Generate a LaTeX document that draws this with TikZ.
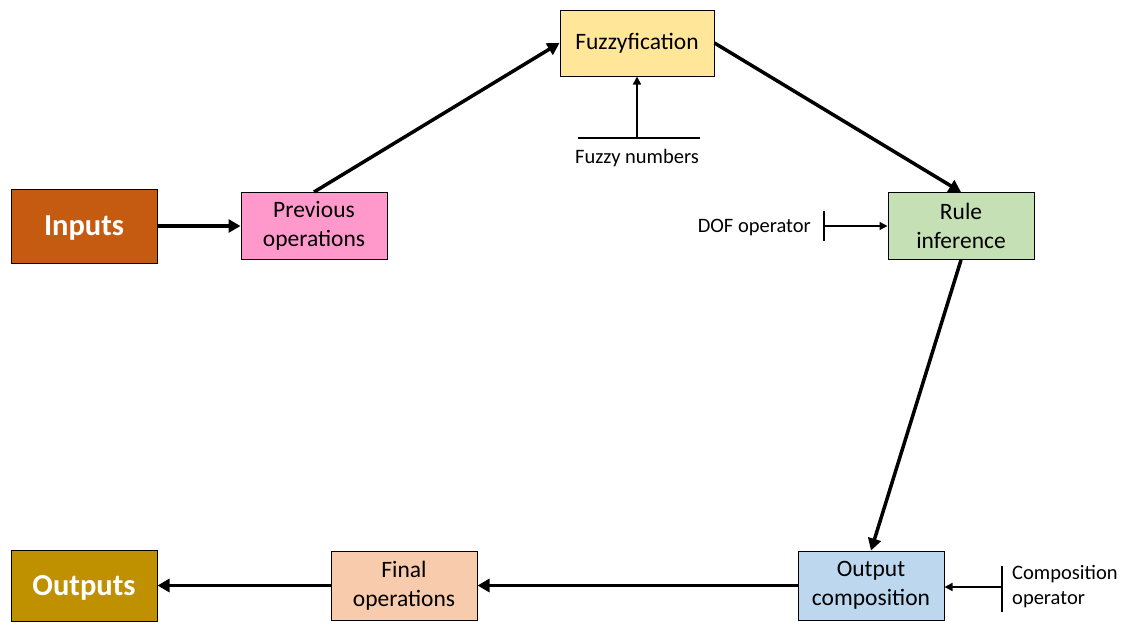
\documentclass[tikz,border=0pt]{standalone}
\usepackage{fontspec}
\setmainfont{Carlito}
\usetikzlibrary{arrows.meta}
\definecolor{inputs}{HTML}{C55A11}
\definecolor{outs}{HTML}{BF9000}
\definecolor{prev}{HTML}{FF99CC}
\definecolor{fuzz}{HTML}{FFE699}
\definecolor{rule}{HTML}{C5E0B4}
\definecolor{outc}{HTML}{BDD7EE}
\definecolor{final}{HTML}{F8CBAD}
\begin{document}
\begin{tikzpicture}[x=1pt,y=-1pt,font=\fontsize{23.5}{29}\selectfont,
 box/.style={draw,line width=1pt,minimum width=146pt,minimum height=67pt,align=center,inner sep=2pt},
 big/.style={box,text=white,font=\fontsize{30.5}{36}\selectfont\bfseries,minimum height=74pt,text depth=0pt},
 small/.style={font=\fontsize{20.5}{25}\selectfont,inner sep=0pt},
 flow/.style={-{Triangle[length=12pt,width=13pt]},line width=3.5pt},
 feed/.style={-{Triangle[length=8pt,width=8pt]},line width=1.5pt}]
\useasboundingbox (0,0) rectangle (1123,621);

\node[big,fill=inputs] (in) at (84,226) {Inputs};
\node[box,fill=prev] (prev) at (314,226) {Previous\\operations};
\node[box,fill=fuzz,minimum width=154pt,minimum height=66pt] (fuzz) at (637,43) {Fuzzyfication};
\node[box,fill=rule] (rule) at (961,226) {Rule\\inference};
\node[box,fill=outc,minimum height=69pt] (outc) at (871,585.5) {Output\\composition};
\node[box,fill=final,minimum height=69pt] (final) at (404,585.5) {Final\\operations};
\node[big,fill=outs,minimum height=71pt] (outs) at (84,585.5) {Outputs};

% main flow
\draw[flow] (in) -- (prev);
\draw[flow] (prev.north) -- (fuzz.west);
\draw[flow] (fuzz.east) -- (rule.north);
\draw[flow] (rule.south) -- (outc.north);
\draw[flow] (outc) -- (final);
\draw[flow] (final) -- (outs);

% side inputs
\coordinate (fnL) at (578,138);
\coordinate (fnR) at (700,138);
\coordinate (fn) at (637,138);
\draw[line width=1.5pt] (fnL) -- (fnR);
\draw[feed] (fn) -- (fuzz.south);
\node[small] (fnlab) at (637,158) {Fuzzy numbers};

\coordinate (dofT) at (824,211);
\coordinate (dofB) at (824,241);
\coordinate (dof) at (824,226);
\draw[line width=1.5pt] (dofT) -- (dofB);
\draw[feed] (dof) -- (rule.west);
\node[small,anchor=east] (doflab) at (811,227) {DOF operator};

\coordinate (cmpT) at (1002,566);
\coordinate (cmpB) at (1002,612);
\coordinate (cmp) at (1002,587);
\draw[line width=1.5pt] (cmpT) -- (cmpB);
\draw[feed] (cmp) -- (outc.east |- cmp);
\node[small,anchor=west,align=left] (cmplab) at (1012,587) {Composition\\operator};
\end{tikzpicture}
\end{document}
